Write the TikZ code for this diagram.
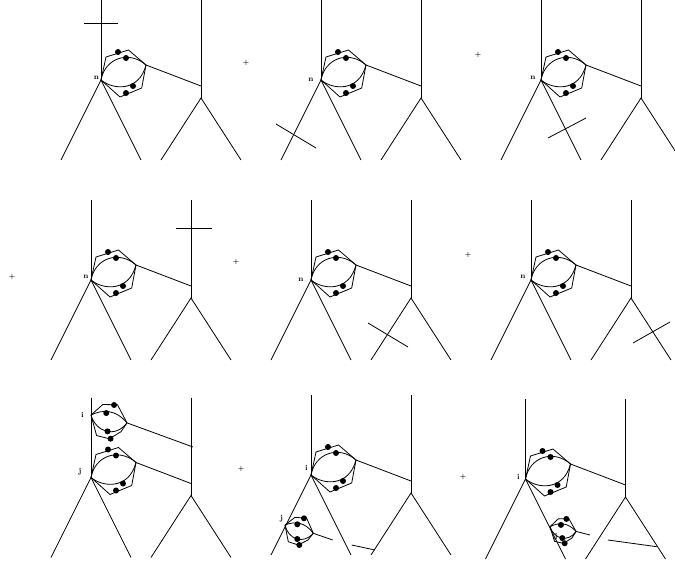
\documentclass[tikz,border=0pt]{standalone}
\usepackage{tikz}
\usetikzlibrary{calc}

\begin{document}
\begin{tikzpicture}[
    x=1pt, y=-1pt,
    line width=0.8pt,
    dotmark/.style={circle, fill=black, draw=none, inner sep=0pt, minimum size=6pt},
    vlabel/.style={inner sep=0pt, font=\fontsize{7.5}{8}\selectfont\bfseries},
    plussign/.style={inner sep=0pt, font=\fontsize{6}{7}\selectfont\bfseries},
    bigblob/.pic={
        \draw (0,0) -- (5,-23) -- (27.5,-30) -- (45,-15) -- (40.7,8) -- (19,17) -- cycle;
        \draw (0,0) .. controls (4,-22) and (28,-30) .. (45,-15);
        \draw (0,0) .. controls (12,10) and (38,12) .. (45,-15);
        \node[dotmark] (-a) at (17,-28) {};
        \node[dotmark] (-b) at (25,-22) {};
        \node[dotmark] (-c) at (32,6) {};
        \node[dotmark] (-d) at (25,13) {};
        \coordinate (-exit) at (45,-15);
    },
    smallblob/.pic={
        \draw (0,0) -- (10,-7.7) -- (21.7,-6.7) -- (28.3,8.3) -- (23,15) -- (13.3,20) -- (3.3,16.7) -- cycle;
        \draw (0,0) .. controls (10,-4) and (20,-3) .. (28.3,8.3);
        \draw (0,0) .. controls (3,14) and (18,20) .. (28.3,8.3);
        \node[dotmark] (-a) at (19,-6.7) {};
        \node[dotmark] (-b) at (12.3,-0.7) {};
        \node[dotmark] (-c) at (12.3,14) {};
        \node[dotmark] (-d) at (14.3,20) {};
        \coordinate (-exit) at (28.3,8.3);
    },
    graphpart/.pic={
        \coordinate (-v) at (0,0);
        \coordinate (-w) at (100,18);
        \coordinate (-h) at (100,6);
        \draw (0,-80) -- (-v);
        \draw (-40,80) -- (-v) -- (40,80);
        \draw (100,-80) -- (-w);
        \draw (60,80) -- (-w) -- (140,80);
        \pic (-blob) at (0,0) {bigblob};
        \draw (-blob-exit) -- (-h);
    }
]
    \useasboundingbox (0,0) rectangle (675,565);

    % First row
    \pic (g1) at (101,80) {graphpart};
    \pic (g2) at (321,80) {graphpart};
    \pic (g3) at (541,80) {graphpart};
    \node[vlabel] (n1) at (96.5,78) {n};
    \node[vlabel] (n2) at (311,80) {n};
    \node[vlabel] (n3) at (533,78) {n};
    \draw (84,23) -- (118,23);
    \draw (276,124) -- (316,148);
    \draw (548,138) -- (586,118);
    \node[plussign] (p1) at (246,63) {+};
    \node[plussign] (p2) at (478,55) {+};

    % Second row
    \pic (g4) at (91,280) {graphpart};
    \pic (g5) at (311,280) {graphpart};
    \pic (g6) at (531,280) {graphpart};
    \node[vlabel] (n4) at (86,277) {n};
    \node[vlabel] (n5) at (301,280) {n};
    \node[vlabel] (n6) at (523,277) {n};
    \draw (176,228) -- (212,228);
    \draw (368,323) -- (408,347);
    \draw (633,343) -- (670,322);
    \node[plussign] (p3) at (12,277) {+};
    \node[plussign] (p4) at (236,262) {+};
    \node[plussign] (p5) at (468,255) {+};

    % Third row
    \pic (g7) at (91,477.5) {graphpart};
    \pic (g8) at (311,475) {graphpart};
    \pic (g9) at (525.5,479) {graphpart};
    \node[vlabel] (i7) at (82.5,415) {i};
    \node[vlabel] (j7) at (80,472) {j};
    \node[vlabel] (i8) at (306.5,468) {i};
    \node[vlabel] (j8) at (281.5,519) {j};
    \node[vlabel] (i9) at (518.5,477) {i};
    \node[plussign] (p6) at (241,469) {+};
    \node[plussign] (p7) at (463,477) {+};

    % Extra loops
    \pic (s7) at (91,415) [scale=1.25, rotate=4] {smallblob};
    \coordinate (s7end) at (193,447);
    \draw (s7-exit) -- (s7end);
    \pic (s8) at (285,525) {smallblob};
    \coordinate (s8end) at (332.7,540);
    \draw (s8-exit) -- (s8end);
    \pic (s9) at (550,526.7) [scale=0.9, rotate=6] {smallblob};
    \coordinate (s9end) at (590,535);
    \draw (s9-exit) -- (s9end);
    \node[vlabel] (j9) at (556,537) {j};

    % Loose ends
    \draw (351.7,545) -- (375,550);
    \draw (608,540) -- (656.7,546.7);
\end{tikzpicture}
\end{document}
